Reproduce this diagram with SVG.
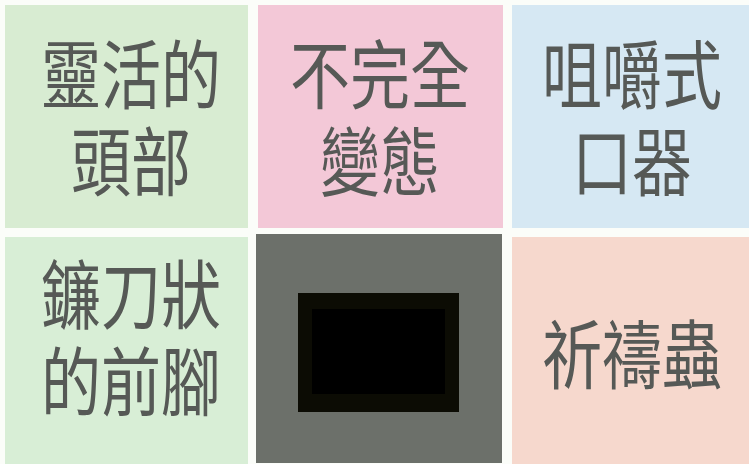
<svg xmlns="http://www.w3.org/2000/svg" width="749" height="464" viewBox="0 0 749 464">
<style>
.t{font-family:"Noto Sans CJK TC","Noto Sans CJK SC",sans-serif;font-size:60px;fill:#565956;text-anchor:middle;}
</style>
<rect width="749" height="464" fill="#fbfdf9"/>
<g id="head"><rect x="5" y="5" width="243" height="223" fill="#d8ecd2"/>
<text class="t" transform="translate(131 103) scale(1 1.25)"><tspan x="0" y="0">靈活的</tspan><tspan x="0" y="69.6">頭部</tspan></text></g>
<g id="meta"><rect x="258" y="5" width="245" height="223" fill="#f3c8d7"/>
<text class="t" transform="translate(380 103) scale(1 1.25)"><tspan x="0" y="0">不完全</tspan><tspan x="0" y="69.6">變態</tspan></text></g>
<g id="mouth"><rect x="512" y="5" width="237" height="223" fill="#d6e8f3"/>
<text class="t" transform="translate(632 103) scale(1 1.25)"><tspan x="0" y="0">咀嚼式</tspan><tspan x="0" y="69.6">口器</tspan></text></g>
<g id="legs"><rect x="5" y="237" width="243" height="227" fill="#d8eed6"/>
<text class="t" transform="translate(131 323) scale(1 1.25)"><tspan x="0" y="0">鐮刀狀</tspan><tspan x="0" y="69.6">的前腳</tspan></text></g>
<g id="hidden"><rect x="256" y="234" width="246" height="229" fill="#6c706a"/>
<rect x="298" y="293" width="161" height="119" fill="#0c0c04"/>
<rect x="312" y="309" width="133" height="85" fill="#000"/></g>
<g id="mantis"><rect x="512" y="237" width="237" height="227" fill="#f6d8cd"/>
<text class="t" transform="translate(632 383) scale(1 1.25)">祈禱蟲</text></g>
<g id="connectors"/>
</svg>
